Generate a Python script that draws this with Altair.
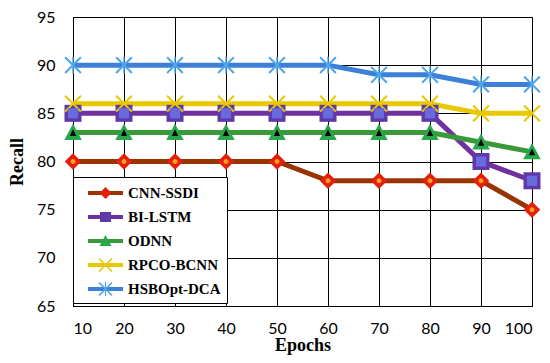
import altair as alt
import pandas as pd

epochs = [10, 20, 30, 40, 50, 60, 70, 80, 90, 100]
models = ["CNN-SSDI", "BI-LSTM", "ODNN", "RPCO-BCNN", "HSBOpt-DCA"]
cnn_ssdi = [80, 80, 80, 80, 80, 78, 78, 78, 78, 75]
bi_lstm = [85, 85, 85, 85, 85, 85, 85, 85, 80, 78]
odnn = [83, 83, 83, 83, 83, 83, 83, 83, 82, 81]
rpco_bcnn = [86, 86, 86, 86, 86, 86, 86, 86, 85, 85]
hsbopt_dca = [90, 90, 90, 90, 90, 90, 89, 89, 88, 88]
y_ticks = [65, 70, 75, 80, 85, 90, 95]

line_colors = ["#993300", "#7030A0", "#3A9A3A", "#E8C800", "#3C80D8"]
marker_colors = ["#E3200B", "#6038A8", "#27A84A", "#E8C800", "#4DA6EC"]
inner_models = ["CNN-SSDI", "BI-LSTM", "ODNN"]
inner_colors = ["#FFA020", "#6A6AE0", "#000000"]

x_path = ("M-0.592,-0.708L0.708,0.592L0.592,0.708L-0.708,-0.592Z"
          "M0.592,-0.708L0.708,-0.592L-0.592,0.708L-0.708,0.592Z")
star_path = x_path + "M-0.06,-0.7L0.06,-0.7L0.06,0.7L-0.06,0.7Z"
marker_paths = [
    "M0,-0.68L0.68,0L0,0.68L-0.68,0Z",
    "M-0.7,-0.7H0.7V0.7H-0.7Z",
    "M0,-0.72L0.72,0.6L-0.72,0.6Z",
    x_path,
    star_path,
]
legend_marker_paths = [
    "M0,-0.6L0.6,0L0,0.6L-0.6,0Z",
    "M-0.55,-0.5H0.55V0.5H-0.55Z",
    "M0,-0.6L0.6,0.5L-0.6,0.5Z",
    x_path,
    star_path,
]
inner_paths = [
    "M-0.2,0A0.2,0.2,0,1,0,0.2,0A0.2,0.2,0,1,0,-0.2,0Z",
    "M-0.42,-0.42H0.42V0.42H-0.42Z",
    "M0,-0.28L0.26,0.28L-0.26,0.28Z",
]
legend_line_path = "M-1.75,-0.2H1.75V0.2H-1.75Z"

series = [cnn_ssdi, bi_lstm, odnn, rpco_bcnn, hsbopt_dca]
rows = []
for m, vals in zip(models, series):
    for e, v in zip(epochs, vals):
        rows.append({"epoch": e, "value": v, "model": m, "model_m": m,
                     "model_i": m, "leg_l": m, "leg_m": m})
df = pd.DataFrame(rows)

x_enc = alt.X("epoch:Q", scale=alt.Scale(domain=[10, 100], nice=False),
              axis=alt.Axis(values=epochs, title="Epochs"))
y_enc = alt.Y("value:Q", scale=alt.Scale(domain=[65, 95], nice=False),
              axis=alt.Axis(values=y_ticks, title="Recall"))

legend_common = dict(
    orient="none", legendX=0, legendY=160, title=None,
    symbolSize=400, symbolStrokeWidth=0, rowPadding=6,
    padding=6, symbolOffset=16.5, labelOffset=12.5,
    labelFont="Liberation Serif", labelFontWeight="bold", labelFontSize=15,
    labelColor="black",
)

lines = alt.Chart(df).mark_line(strokeWidth=5).encode(
    x=x_enc, y=y_enc,
    color=alt.Color("model:N", scale=alt.Scale(domain=models, range=line_colors),
                    legend=None),
)

points = alt.Chart(df).mark_point(filled=True, size=590, opacity=1).encode(
    x=x_enc, y=y_enc,
    color=alt.Color("model_m:N", scale=alt.Scale(domain=models, range=marker_colors),
                    legend=None),
    shape=alt.Shape("model_m:N", scale=alt.Scale(domain=models, range=marker_paths),
                    legend=None),
)

inner = alt.Chart(df).transform_filter(
    alt.FieldOneOfPredicate(field="model_i", oneOf=inner_models)
).mark_point(filled=True, size=590, opacity=1).encode(
    x=x_enc, y=y_enc,
    color=alt.Color("model_i:N", scale=alt.Scale(domain=inner_models, range=inner_colors),
                    legend=None),
    shape=alt.Shape("model_i:N", scale=alt.Scale(domain=inner_models, range=inner_paths),
                    legend=None),
)

# legend-only layers (no data rows survive the filter)
leg_lines = alt.Chart(df).transform_filter("datum.value < 0").mark_point(
    filled=True, size=400, opacity=1
).encode(
    x=x_enc, y=y_enc,
    color=alt.Color("leg_l:N", scale=alt.Scale(domain=models, range=line_colors),
                    sort=models,
                    legend=alt.Legend(fillColor="white", strokeColor="black",
                                      **legend_common)),
    shape=alt.Shape("leg_l:N",
                    scale=alt.Scale(domain=models, range=[legend_line_path] * 5),
                    sort=models),
)

leg_marks = alt.Chart(df).transform_filter("datum.value < 0").mark_point(
    filled=True, size=400, opacity=1
).encode(
    x=x_enc, y=y_enc,
    color=alt.Color("leg_m:N", scale=alt.Scale(domain=models, range=marker_colors),
                    sort=models,
                    legend=alt.Legend(labelOpacity=0, **legend_common)),
    shape=alt.Shape("leg_m:N", scale=alt.Scale(domain=models, range=legend_marker_paths),
                    sort=models),
)

chart = alt.layer(lines, points, inner, leg_lines, leg_marks).resolve_scale(
    color="independent", shape="independent"
).resolve_legend(color="independent", shape="independent").properties(
    width=459, height=289,
    autosize=alt.AutoSizeParams(type="none"),
    padding={"left": 65, "top": 9, "right": 10, "bottom": 49},
).configure_view(
    stroke="black", strokeWidth=1
).configure_axis(
    grid=True, gridColor="black", gridOpacity=1, gridWidth=1,
    domain=True, domainColor="black", domainWidth=1,
    ticks=False,
    labelFont="Lato", labelFontSize=16, labelColor="black",
    titleFont="Liberation Serif", titleFontWeight="bold", titleFontSize=18,
    titleColor="black",
).configure_axisX(
    labelPadding=14, titlePadding=0,
).configure_axisY(
    labelPadding=18, titlePadding=10,
)

chart.save("out.html", embed_options={"renderer": "svg", "actions": False})
